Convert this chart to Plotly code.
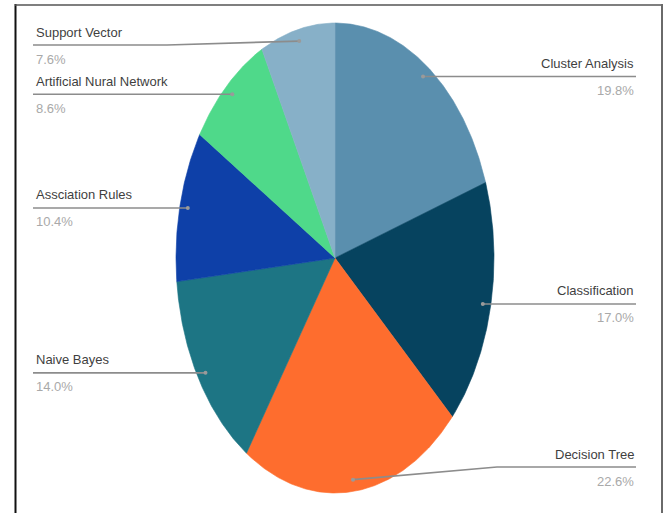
import numpy as np
import plotly.graph_objects as go

# ---- data ----
categories = ["Cluster Analysis", "Classification", "Decision Tree", "Naive Bayes",
              "Assciation Rules", "Artificial Nural Network", "Support Vector"]
shares = [19.8, 17.0, 22.6, 14.0, 10.4, 8.6, 7.6]
slice_colors = ["#5a8fae", "#06435f", "#fe6d2e", "#1d7584", "#0e40a8", "#4fd98a", "#87b0c8"]

# ---- layout constants ----
W, H = 665, 513
CX, CY = 335.0, 258.0      # pie centre (pixels)
RX, RY = 159.0, 235.0      # horizontal / vertical radius (pie is stretched)
DOT_F = 0.95               # leader dot radius fraction
LEFT_X, RIGHT_X = 34, 636  # text edge positions
# leader line overrides: category -> (label line y, kink x)
kinks = {"Decision Tree": (467, 497), "Support Vector": (45, 167)}
right_side = {"Cluster Analysis", "Classification", "Decision Tree"}

NAME_COLOR = "#3f3f3f"
PCT_COLOR = "#a9a9a9"
LINE_COLOR = "#8c8c8c"
FONT = "Liberation Sans, Arial, sans-serif"


def pt(theta_deg, f=1.0):
    t = np.radians(theta_deg)
    return CX + RX * f * np.sin(t), CY - RY * f * np.cos(t)


fig = go.Figure()
total = float(sum(shares))
start = 0.0
annotations = []
for name, val, col in zip(categories, shares, slice_colors):
    a0 = start / total * 360.0
    a1 = (start + val) / total * 360.0
    angs = np.linspace(a0, a1, max(int((a1 - a0) * 2), 4))
    xs, ys = pt(angs)
    xs = np.concatenate([[CX], xs, [CX]])
    ys = np.concatenate([[CY], ys, [CY]])
    fig.add_trace(go.Scatter(
        x=xs, y=ys, mode="lines", fill="toself", fillcolor=col,
        line=dict(color=col, width=0.6), name=name,
        hoveron="fills", text=f"{name}: {val:.1f}%", hoverinfo="text"))

    # leader line
    mid = (a0 + a1) / 2.0
    dx, dy = pt(mid, DOT_F)
    if name in kinks:
        ly, kx = kinks[name]
    else:
        ly, kx = dy, None
    edge = RIGHT_X if name in right_side else LEFT_X - 1
    lx = [dx] + ([kx] if kx is not None else []) + [edge]
    lyy = [dy] + ([ly] if kx is not None else []) + [ly]
    fig.add_trace(go.Scatter(x=lx, y=lyy, mode="lines",
                             line=dict(color=LINE_COLOR, width=1.6),
                             hoverinfo="skip"))
    fig.add_trace(go.Scatter(x=[dx], y=[dy], mode="markers",
                             marker=dict(color="#9a9a9a", size=4),
                             hoverinfo="skip"))

    anchor = "right" if name in right_side else "left"
    tx = RIGHT_X if name in right_side else LEFT_X
    annotations.append(dict(x=tx, y=ly - 13, text=name, showarrow=False,
                            xanchor=anchor, yanchor="middle", xref="x", yref="y",
                            font=dict(family=FONT, size=13, color=NAME_COLOR)))
    annotations.append(dict(x=tx, y=ly + 14, text=f"{val:.1f}%", showarrow=False,
                            xanchor=anchor, yanchor="middle", xref="x", yref="y",
                            font=dict(family=FONT, size=13, color=PCT_COLOR)))
    start += val

# frame of the screenshot
shapes = [
    dict(type="line", xref="x", yref="y", x0=15.5, x1=15.5, y0=4, y1=H,
         line=dict(color="#111111", width=2)),
    dict(type="line", xref="x", yref="y", x0=15, x1=662, y0=5, y1=5,
         line=dict(color="#555555", width=1.6)),
    dict(type="line", xref="x", yref="y", x0=662, x1=662, y0=4, y1=H,
         line=dict(color="#6a6a6a", width=2)),
]

fig.update_layout(
    width=W, height=H, margin=dict(l=0, r=0, t=0, b=0),
    paper_bgcolor="white", plot_bgcolor="white", showlegend=False,
    xaxis=dict(range=[0, W], visible=False, fixedrange=True),
    yaxis=dict(range=[H, 0], visible=False, fixedrange=True),
    annotations=annotations, shapes=shapes,
)

fig.write_html("out.html")
